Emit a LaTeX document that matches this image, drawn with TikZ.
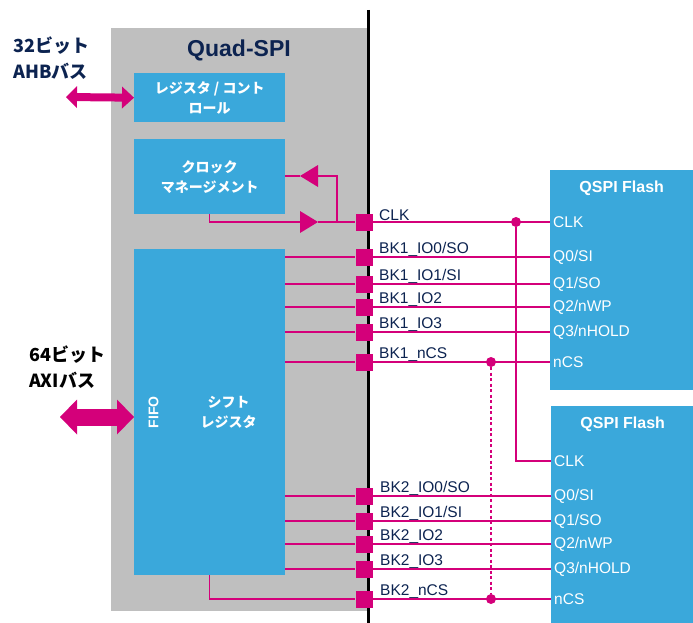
\documentclass[tikz,border=0pt]{standalone}
\usepackage{fontspec}
\setmainfont{Liberation Sans}
\newfontfamily\jp{Noto Sans CJK JP}
\usetikzlibrary{arrows.meta,positioning}
\definecolor{stblue}{RGB}{58,168,219}
\definecolor{stpink}{RGB}{212,0,122}
\definecolor{stnavy}{RGB}{12,35,80}
\definecolor{stgray}{RGB}{191,191,191}

\begin{document}
\begin{tikzpicture}[x=1pt, y=-1pt]
  \tikzstyle{block} = [rectangle, fill=stblue, text=white, align=center, inner sep=0pt, font=\jp\bfseries\fontsize{14}{20}\selectfont]
  \tikzstyle{flash} = [rectangle, fill=stblue, anchor=north west, minimum width=143pt, inner sep=0pt]
  \tikzstyle{flashtitle} = [text=white, inner sep=0pt, font=\bfseries\fontsize{16}{18}\selectfont]
  \tikzstyle{pad} = [rectangle, fill=stpink, minimum size=17pt, inner sep=0pt]
  \tikzstyle{joint} = [circle, fill=stpink, minimum size=10pt, inner sep=0pt]
  \tikzstyle{sig} = [stpink, line width=1.2pt]
  \tikzstyle{sigtext} = [anchor=base west, text=stnavy, inner sep=0pt, font=\fontsize{15.5}{18}\selectfont]
  \tikzstyle{pintext} = [anchor=west, text=white, inner xsep=3pt, inner ysep=0pt, font=\fontsize{15.5}{18}\selectfont]
  \tikzstyle{bustext} = [anchor=west, align=left, inner sep=0pt, font=\jp\bfseries\fontsize{18}{25.5}\selectfont]
  \tikzstyle{tri} = [-{Triangle[length=18pt,width=22pt,line width=0pt]}]

  \useasboundingbox (0,0) rectangle (693,623);

  % Quad-SPI frame and the pin edge
  \node (qspi) [fill=stgray, anchor=north west, minimum width=256pt, minimum height=583pt, inner sep=0pt] at (111,28) {};
  \coordinate (edgetop) at (368,10);
  \coordinate (edgebot) at (368,623);
  \draw [line width=3pt] (edgetop) -- (edgebot);
  \node (title) [text=stnavy, font=\bfseries\fontsize{23}{25}\selectfont] at (239,50) {Quad-SPI};

  \node (reg) [block, anchor=north west, minimum width=151pt, minimum height=49pt] at (134,73) {レジスタ / コント\\ロール};
  \node (clk) [block, anchor=north west, minimum width=151pt, minimum height=75pt] at (134,139) {クロック\\マネージメント};
  \node (shift) [block, anchor=north west, minimum width=151pt, minimum height=326pt] at (134,249) {};
  \node (fifo) [block, rotate=90, font=\bfseries\fontsize{14}{16}\selectfont] at ([xshift=19.5pt]shift.west) {FIFO};
  \node (shtxt) [block, fill=none] at ([xshift=19pt]shift.center) {シフト\\レジスタ};

  % buses
  \node (ahb) [bustext, text=stnavy] at (13,58) {32ビット\\AHBバス};
  \node (axi) [bustext, text=black] at (29,367) {64ビット\\AXIバス};
  \coordinate (ahbend) at (66,97);
  \coordinate (axiend) at (60,417);
  \draw [stpink, line width=8pt, {Triangle[length=11pt,width=22pt,line width=0pt]}-{Triangle[length=12pt,width=22pt,line width=0pt]}] (ahbend) -- (reg.west);
  \draw [stpink, line width=17pt, {Triangle[length=17pt,width=35pt,line width=0pt]}-{Triangle[length=17pt,width=35pt,line width=0pt]}] (axiend) -- (shift.west |- axiend);

  % pads
  \node (pclk) [pad] at (364,222) {};
  \node (bk1io0) [pad] at (364,257) {};
  \node (bk1io1) [pad] at (364,284) {};
  \node (bk1io2) [pad] at (364,307) {};
  \node (bk1io3) [pad] at (364,332) {};
  \node (bk1cs) [pad] at (364,362) {};
  \node (bk2io0) [pad] at (364,496) {};
  \node (bk2io1) [pad] at (364,521) {};
  \node (bk2io2) [pad] at (364,544) {};
  \node (bk2io3) [pad] at (364,569) {};
  \node (bk2cs) [pad] at (364,599) {};

  \node [sigtext] at ([xshift=15pt,yshift=2pt]pclk.center) {CLK};
  \node [sigtext] at ([xshift=15pt,yshift=4pt]bk1io0.center) {BK1\_IO0/SO};
  \node [sigtext] at ([xshift=15pt,yshift=4pt]bk1io1.center) {BK1\_IO1/SI};
  \node [sigtext] at ([xshift=15pt,yshift=4pt]bk1io2.center) {BK1\_IO2};
  \node [sigtext] at ([xshift=15pt,yshift=4pt]bk1io3.center) {BK1\_IO3};
  \node [sigtext] at ([xshift=15pt,yshift=4pt]bk1cs.center) {BK1\_nCS};
  \node [sigtext] at ([xshift=16pt,yshift=4pt]bk2io0.center) {BK2\_IO0/SO};
  \node [sigtext] at ([xshift=16pt,yshift=4pt]bk2io1.center) {BK2\_IO1/SI};
  \node [sigtext] at ([xshift=16pt,yshift=4pt]bk2io2.center) {BK2\_IO2};
  \node [sigtext] at ([xshift=16pt,yshift=4pt]bk2io3.center) {BK2\_IO3};
  \node [sigtext] at ([xshift=16pt,yshift=4pt]bk2cs.center) {BK2\_nCS};

  % flash devices
  \node (fl1) [flash, minimum height=220pt] at (550,170) {};
  \node (fl1t) [flashtitle, below=11pt of fl1.north] {QSPI Flash};
  \node (fl2) [flash, minimum height=217pt] at (551,406) {};
  \node (fl2t) [flashtitle, below=11pt of fl2.north] {QSPI Flash};

  \node (f1clk) [pintext] at (550,222) {CLK};
  \node (f1q0) [pintext] at (550,257) {Q0/SI};
  \node (f1q1) [pintext] at (550,284) {Q1/SO};
  \node (f1q2) [pintext] at (550,307) {Q2/nWP};
  \node (f1q3) [pintext] at (550,332) {Q3/nHOLD};
  \node (f1cs) [pintext] at (550,362) {nCS};
  \node (f2clk) [pintext] at (551,461) {CLK};
  \node (f2q0) [pintext] at (551,496) {Q0/SI};
  \node (f2q1) [pintext] at (551,521) {Q1/SO};
  \node (f2q2) [pintext] at (551,544) {Q2/nWP};
  \node (f2q3) [pintext] at (551,569) {Q3/nHOLD};
  \node (f2cs) [pintext] at (551,599) {nCS};

  % clock loop
  \coordinate (clkarr) at (318,222);
  \coordinate (fbtop) at (337,176);
  \coordinate (fbarr) at (300,176);
  \draw [sig, tri] (clk.south) |- (clkarr);
  \draw [sig] (clkarr) -- (pclk);
  \draw [sig, tri] (clkarr -| fbtop) -- (fbtop) -- (fbarr);
  \draw [sig] (fbarr) -- (clk.east |- fbarr);

  % shift register to pads
  \draw [sig] (shift.east |- bk1io0) -- (bk1io0);
  \draw [sig] (shift.east |- bk1io1) -- (bk1io1);
  \draw [sig] (shift.east |- bk1io2) -- (bk1io2);
  \draw [sig] (shift.east |- bk1io3) -- (bk1io3);
  \draw [sig] (shift.east |- bk1cs) -- (bk1cs);
  \draw [sig] (shift.east |- bk2io0) -- (bk2io0);
  \draw [sig] (shift.east |- bk2io1) -- (bk2io1);
  \draw [sig] (shift.east |- bk2io2) -- (bk2io2);
  \draw [sig] (shift.east |- bk2io3) -- (bk2io3);
  \draw [sig] (shift.south) |- (bk2cs);

  % pads to flash
  \draw [sig] (pclk) -- (f1clk);
  \draw [sig] (bk1io0) -- (f1q0);
  \draw [sig] (bk1io1) -- (f1q1);
  \draw [sig] (bk1io2) -- (f1q2);
  \draw [sig] (bk1io3) -- (f1q3);
  \draw [sig] (bk1cs) -- (f1cs);
  \draw [sig] (bk2io0) -- (f2q0);
  \draw [sig] (bk2io1) -- (f2q1);
  \draw [sig] (bk2io2) -- (f2q2);
  \draw [sig] (bk2io3) -- (f2q3);
  \draw [sig] (bk2cs) -- (f2cs);

  % shared clock and chip select
  \node (jclk) [joint] at (516,222) {};
  \draw [sig] (jclk) |- (f2clk);
  \node (jcs1) [joint] at (491,362) {};
  \node (jcs2) [joint] at (491,599) {};
  \draw [sig, line width=1.1pt, dash pattern=on 3pt off 2.5pt] (jcs1) -- (jcs2);
\end{tikzpicture}
\end{document}
